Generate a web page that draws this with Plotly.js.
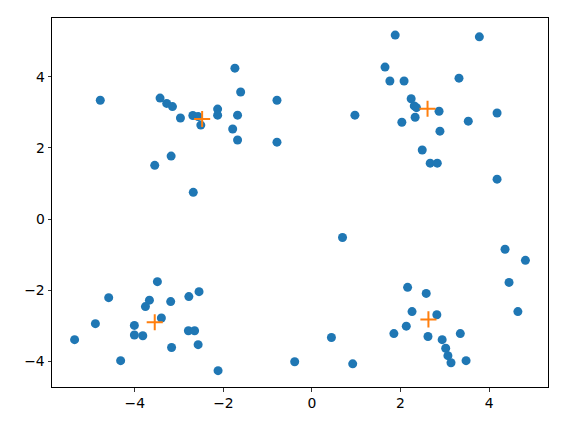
<!DOCTYPE html>
<html>
<head>
<meta charset="utf-8">
<script src="https://cdn.plot.ly/plotly-3.0.1.min.js"></script>
<style>html,body{margin:0;padding:0;background:#fff}#chart{width:583px;height:425px}</style>
</head>
<body>
<div id="chart"></div>
<script>
var pointsX = [
  -4.78,-3.43,-3.28,-3.15,-2.97,-2.69,-2.57,-2.51,-2.13,-2.13,-1.74,-1.61,-1.68,-1.79,-1.68,-0.79,-0.79,-3.18,-3.55,-2.68,
  1.88,3.78,1.65,1.76,2.08,3.32,2.24,2.31,2.36,2.87,0.97,2.03,2.33,3.53,4.18,2.89,2.49,2.67,2.83,4.18,
  -3.49,-2.55,-4.59,-3.67,-3.76,-3.19,-2.78,-3.40,-4.89,-4.01,-4.01,-3.82,-2.79,-2.65,-5.36,-3.17,-2.57,-4.32,-2.12,-0.39,
  0.69,4.36,4.82,4.45,4.65,2.16,2.58,2.26,2.82,2.13,1.85,2.62,2.94,3.35,3.02,3.07,3.14,3.48,0.44,0.92
];
var pointsY = [
  3.34,3.40,3.25,3.16,2.84,2.91,2.88,2.64,3.09,2.92,4.24,3.57,2.92,2.53,2.22,3.34,2.16,1.77,1.51,0.75,
  5.17,5.12,4.27,3.88,3.88,3.96,3.38,3.18,3.13,3.03,2.92,2.72,2.86,2.75,2.98,2.47,1.94,1.57,1.57,1.12,
  -1.76,-2.04,-2.21,-2.28,-2.46,-2.32,-2.18,-2.78,-2.94,-2.99,-3.26,-3.28,-3.14,-3.14,-3.39,-3.61,-3.53,-3.98,-4.26,-4.01,
  -0.52,-0.85,-1.16,-1.78,-2.60,-1.92,-2.09,-2.60,-2.69,-3.01,-3.22,-3.30,-3.39,-3.22,-3.63,-3.84,-4.04,-3.98,-3.33,-4.07
];
var centroidX = [-2.48, 2.61, -3.55, 2.63];
var centroidY = [2.81, 3.10, -2.90, -2.82];
var tickVals = [-4, -2, 0, 2, 4];

var traces = [
  {x: pointsX, y: pointsY, type: 'scatter', mode: 'markers',
   marker: {color: '#1f77b4', size: 9}, hoverinfo: 'skip'},
  {x: centroidX, y: centroidY, type: 'scatter', mode: 'markers',
   marker: {symbol: 'cross-thin', size: 11.5, color: '#ff7f0e', line: {color: '#ff7f0e', width: 2}}, hoverinfo: 'skip'}
];

var axisCommon = {
  showgrid: false, zeroline: false, showline: true, mirror: true,
  linecolor: '#000', linewidth: 1, ticks: 'outside', ticklen: 3.5, tickwidth: 0.8,
  tickcolor: '#000', tickmode: 'array', tickvals: tickVals,
  tickfont: {family: 'DejaVu Sans', size: 13.9, color: '#000'}
};

var layout = {
  width: 583, height: 425,
  margin: {l: 52, r: 35, t: 18, b: 38},
  paper_bgcolor: '#fff', plot_bgcolor: '#fff',
  showlegend: false,
  xaxis: Object.assign({}, axisCommon, {range: [-5.87, 5.33]}),
  yaxis: Object.assign({}, axisCommon, {range: [-4.72, 5.65]})
};

Plotly.newPlot('chart', traces, layout, {staticPlot: true, displayModeBar: false});
</script>
</body>
</html>
